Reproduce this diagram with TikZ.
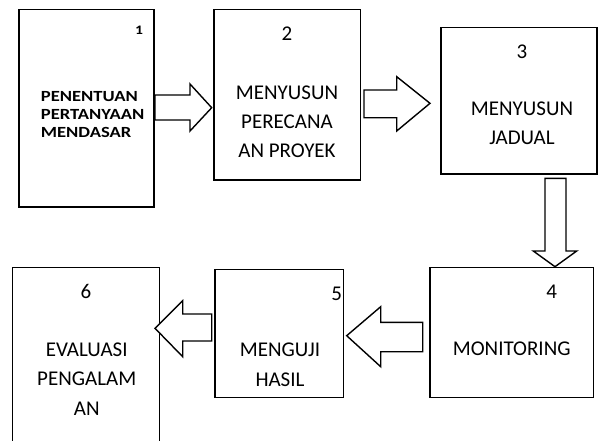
\documentclass[tikz,border=0pt]{standalone}
\usepackage{fontspec}
\setmainfont{Carlito}
\newfontfamily\cbold{Carlito Bold}[FakeStretch=1.2]
\begin{document}
\begin{tikzpicture}[x=1pt,y=-1pt,
  box/.style={draw=black, line width=1.4pt, rectangle, inner sep=0pt, outer sep=0pt},
  blockarrow/.style={draw=black, line width=1.4pt, fill=white, line join=miter},
  txt/.style={font=\fontsize{21}{25}\selectfont, anchor=base, inner sep=0pt},
  btxt/.style={font=\cbold\fontsize{15.5}{18}\selectfont, anchor=base west, inner sep=0pt},
  num/.style={font=\fontsize{21}{25}\selectfont, anchor=base, inner sep=0pt},
  bnum/.style={font=\cbold\fontsize{13}{16}\selectfont, anchor=base, inner sep=0pt}]
\useasboundingbox (0,0) rectangle (600,440);

% boxes
\node[box, minimum width=135pt, minimum height=197.7pt] (b1) at (86.5,108.15) {};
\node[box, minimum width=146.7pt, minimum height=170.7pt] (b2) at (287.35,94.65) {};
\node[box, minimum width=156pt, minimum height=146.7pt] (b3) at (519,100.65) {};
\node[box, minimum width=163.3pt, minimum height=130pt] (b4) at (511.65,332.7) {};
\node[box, minimum width=128.3pt, minimum height=128pt] (b5) at (279.15,333.3) {};
\node[box, minimum width=146.6pt, minimum height=192.7pt] (b6) at (86,363.65) {};

% block arrows
\draw[blockarrow] (155,95) -- (190,95) -- (190,84) -- (211.7,107.7) -- (190,131) -- (190,120) -- (155,120) -- cycle;
\draw[blockarrow] (364,90) -- (396.7,90) -- (396.7,76.7) -- (430,103.3) -- (396.7,131) -- (396.7,117.7) -- (364,117.7) -- cycle;
\draw[blockarrow] (545,178.3) -- (566,178.3) -- (566,251) -- (576.7,251) -- (555,266.7) -- (533.3,251) -- (545,251) -- cycle;
\draw[blockarrow] (422.7,322.3) -- (380.7,322.3) -- (380.7,306.7) -- (346.7,335.7) -- (380.7,366.7) -- (380.7,351.7) -- (422.7,351.7) -- cycle;
\draw[blockarrow] (211.7,314) -- (182.7,314) -- (182.7,300.7) -- (155,328.3) -- (182.7,356.7) -- (182.7,341) -- (211.7,341) -- cycle;

% box 1
\node[bnum] (n1) at (139,34) {1};
\node[btxt] (t1a) at (40.7,101.7) {PENENTUAN};
\node[btxt] (t1b) at (40.7,119.7) {PERTANYAAN};
\node[btxt] (t1c) at (40.7,137.7) {MENDASAR};

% box 2
\node[num] (n2) at (287,40.7) {2};
\node[txt] (t2a) at (287,99) {MENYUSUN};
\node[txt] (t2b) at (287,128) {PERECANA};
\node[txt] (t2c) at (287,157) {AN PROYEK};

% box 3
\node[num] (n3) at (522,58.3) {3};
\node[txt] (t3a) at (522,115) {MENYUSUN};
\node[txt] (t3b) at (522,144.3) {JADUAL};

% box 4
\node[num] (n4) at (551.7,298.3) {4};
\node[txt] (t4a) at (511.7,355) {MONITORING};

% box 5
\node[num] (n5) at (336.7,300.7) {5};
\node[txt] (t5a) at (280,356.7) {MENGUJI};
\node[txt] (t5b) at (280,386.7) {HASIL};

% box 6
\node[num] (n6) at (86,298) {6};
\node[txt] (t6a) at (86.7,356) {EVALUASI};
\node[txt] (t6b) at (86.7,385.5) {PENGALAM};
\node[txt] (t6c) at (86.7,415) {AN};
\end{tikzpicture}
\end{document}
